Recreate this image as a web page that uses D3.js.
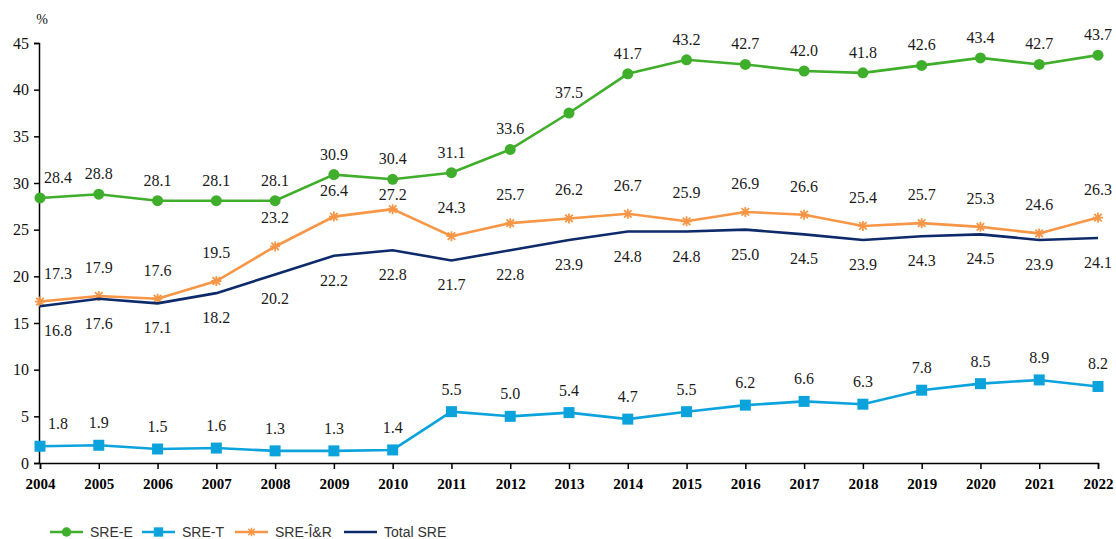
<!DOCTYPE html>
<html>
<head>
<meta charset="utf-8">
<script src="https://cdn.jsdelivr.net/npm/d3@7"></script>
<style>
  body { margin: 0; background: #fff; }
  svg { display: block; }
</style>
</head>
<body>
<div id="chart"></div>
<script>
// values
const years = [2004, 2005, 2006, 2007, 2008, 2009, 2010, 2011, 2012, 2013,
               2014, 2015, 2016, 2017, 2018, 2019, 2020, 2021, 2022];
const sreE = [28.4, 28.8, 28.1, 28.1, 28.1, 30.9, 30.4, 31.1, 33.6, 37.5,
              41.7, 43.2, 42.7, 42.0, 41.8, 42.6, 43.4, 42.7, 43.7];
const sreT = [1.8, 1.9, 1.5, 1.6, 1.3, 1.3, 1.4, 5.5, 5.0, 5.4,
              4.7, 5.5, 6.2, 6.6, 6.3, 7.8, 8.5, 8.9, 8.2];
const sreIR = [17.3, 17.9, 17.6, 19.5, 23.2, 26.4, 27.2, 24.3, 25.7, 26.2,
               26.7, 25.9, 26.9, 26.6, 25.4, 25.7, 25.3, 24.6, 26.3];
const sreTotal = [16.8, 17.6, 17.1, 18.2, 20.2, 22.2, 22.8, 21.7, 22.8, 23.9,
                  24.8, 24.8, 25.0, 24.5, 23.9, 24.3, 24.5, 23.9, 24.1];
const yTicks = [0, 5, 10, 15, 20, 25, 30, 35, 40, 45];
const legendNames = ["SRE-E", "SRE-T", "SRE-Î&R", "Total SRE"];

const width = 1116, height = 539;
const serif = "'Liberation Serif', 'Times New Roman', serif";

const svg = d3.select("#chart").append("svg")
    .attr("width", width)
    .attr("height", height);

const x = d3.scaleLinear().domain([2004, 2022]).range([40, 1098]);
const y = d3.scaleLinear().domain([0, 45]).range([463, 43]);

// y axis
const yAxis = svg.append("g")
    .attr("transform", `translate(${x(2004) - 1},0)`)
    .call(d3.axisLeft(y).tickValues(yTicks).tickSize(5).tickPadding(5).tickFormat(d3.format("d")));
yAxis.select(".domain").attr("stroke", "#000").attr("stroke-width", 1.5);
yAxis.selectAll(".tick line").attr("stroke", "#000").attr("stroke-width", 1.5);
yAxis.selectAll(".tick text")
    .attr("fill", "#111")
    .style("font-family", serif)
    .style("font-size", "16px");

svg.append("text")
    .attr("x", 42).attr("y", 24)
    .attr("text-anchor", "middle")
    .style("font-family", serif)
    .style("font-size", "14px")
    .attr("fill", "#111")
    .text("%");

// x axis
const xAxis = svg.append("g")
    .attr("transform", `translate(0,${y(0)})`)
    .call(d3.axisBottom(x).tickValues(years).tickSize(6).tickPadding(9).tickFormat(d3.format("d")));
xAxis.select(".domain").attr("stroke", "#000").attr("stroke-width", 1.5);
xAxis.selectAll(".tick line").attr("stroke", "#000").attr("stroke-width", 1.5);
xAxis.selectAll(".tick text")
    .attr("fill", "#000")
    .style("font-family", serif)
    .style("font-size", "15px")
    .style("font-weight", "bold");

const series = [
    { name: legendNames[0], values: sreE, color: "#3fae2a", marker: "circle", labelDy: -15 },
    { name: legendNames[2], values: sreIR, color: "#f79646", marker: "star", labelDy: -23 },
    { name: legendNames[3], values: sreTotal, color: "#0d2a6b", marker: "none", labelDy: 30 },
    { name: legendNames[1], values: sreT, color: "#0ca3dd", marker: "square", labelDy: -17 }
];

const line = d3.line().x((d, i) => x(years[i])).y(d => y(d));

const drawMarker = (g, type, color) => {
    if (type === "circle") {
        g.append("circle").attr("r", 5.5).attr("fill", color);
    } else if (type === "square") {
        g.append("rect").attr("x", -5.5).attr("y", -5.5).attr("width", 11).attr("height", 11).attr("fill", color);
    } else if (type === "star") {
        const s = 5;
        g.append("path")
            .attr("d", `M${-s},0H${s}M0,${-s}V${s}M${-s * 0.75},${-s * 0.75}L${s * 0.75},${s * 0.75}M${-s * 0.75},${s * 0.75}L${s * 0.75},${-s * 0.75}`)
            .attr("stroke", color).attr("stroke-width", 1.8).attr("fill", "none");
    }
};

series.forEach(s => {
    const g = svg.append("g");
    g.append("path")
        .datum(s.values)
        .attr("d", line)
        .attr("fill", "none")
        .attr("stroke", s.color)
        .attr("stroke-width", 2.6);

    s.values.forEach((v, i) => {
        const m = g.append("g").attr("transform", `translate(${x(years[i])},${y(v)})`);
        drawMarker(m, s.marker, s.color);
    });

    g.selectAll("text.lbl")
        .data(s.values)
        .join("text")
        .attr("class", "lbl")
        .attr("x", (d, i) => x(years[i]) + (i === 0 ? 18 : 0))
        .attr("y", (d, i) => {
            let yy = y(d) + s.labelDy;
            // keep the Î&R labels clear of the SRE-E markers just above them
            if (s.marker === "star") yy = Math.max(yy, y(sreE[i]) + 21);
            return yy;
        })
        .attr("text-anchor", "middle")
        .style("font-family", serif)
        .style("font-size", "16px")
        .attr("fill", "#1a1a1a")
        .text(d => d.toFixed(1));
});

// legend
const legend = svg.append("g").attr("transform", "translate(50,532)");
const legendItems = [
    { name: legendNames[0], color: "#3fae2a", marker: "circle", x: 0 },
    { name: legendNames[1], color: "#0ca3dd", marker: "square", x: 92 },
    { name: legendNames[2], color: "#f79646", marker: "star", x: 185 },
    { name: legendNames[3], color: "#0d2a6b", marker: "none", x: 294 }
];
legendItems.forEach(it => {
    const g = legend.append("g").attr("transform", `translate(${it.x},0)`);
    g.append("line").attr("x1", 0).attr("x2", 33).attr("y1", 0).attr("y2", 0)
        .attr("stroke", it.color).attr("stroke-width", 2.6);
    const m = g.append("g").attr("transform", "translate(16.5,0) scale(0.85)");
    drawMarker(m, it.marker, it.color);
    g.append("text")
        .attr("x", 40).attr("y", 5)
        .style("font-family", "'Liberation Sans', Arial, sans-serif")
        .style("font-size", "14px")
        .attr("fill", "#333")
        .text(it.name);
});
</script>
</body>
</html>
